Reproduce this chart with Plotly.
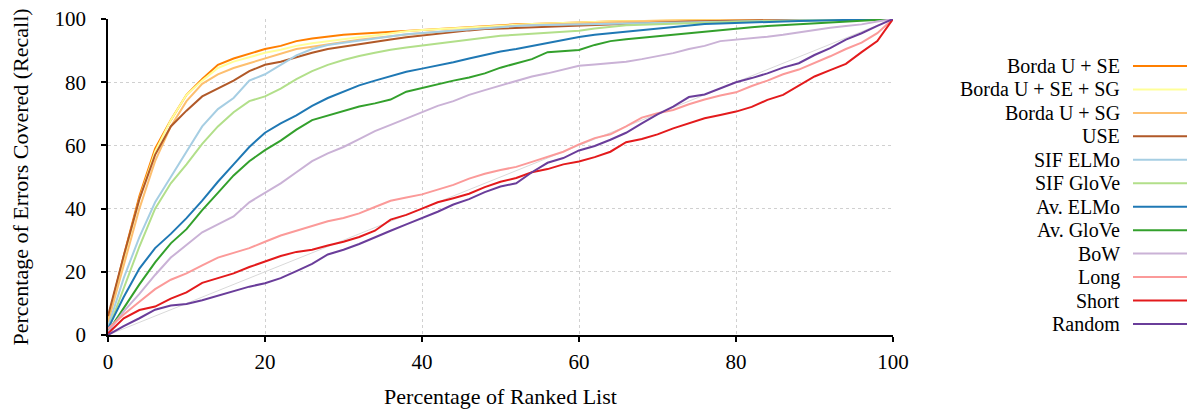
import plotly.graph_objects as go

x_pct = list(range(0, 101, 2))

borda_se = [5, 25, 44, 59, 68, 76, 81, 85.5, 87.5, 89, 90.5, 91.5, 93, 93.8, 94.5, 95, 95.3, 95.6, 95.9, 96.2,
            96.6, 96.9, 97.2, 97.5, 97.8, 98.1, 98.3, 98.4, 98.6, 98.8, 99, 99.1, 99.2, 99.3, 99.4, 99.5, 99.5,
            99.6, 99.6, 99.7, 99.7, 99.8, 99.8, 99.8, 99.9, 99.9, 99.9, 100, 100, 100, 100]
borda_se_sg = [4, 24, 43, 58, 68, 76, 80.5, 84.5, 86.5, 88, 89.3, 90.3, 91.5, 92.3, 93, 93.6, 94.2, 94.8, 95.5,
               96.1, 96.5, 96.8, 97.1, 97.4, 97.7, 98, 98.2, 98.4, 98.6, 98.8, 99, 99.1, 99.2, 99.3, 99.4, 99.5,
               99.5, 99.6, 99.6, 99.7, 99.7, 99.8, 99.8, 99.8, 99.9, 99.9, 99.9, 100, 100, 100, 100]
borda_sg = [4, 22, 40, 55, 66, 74, 79.5, 82.5, 84.5, 86, 87.5, 89, 90.5, 91.2, 92, 92.8, 93.4, 94, 94.6, 95.1,
            95.5, 95.9, 96.3, 96.8, 97.2, 97.6, 97.9, 98.1, 98.3, 98.5, 98.7, 98.9, 99, 99.2, 99.3, 99.4, 99.5,
            99.5, 99.6, 99.6, 99.7, 99.7, 99.8, 99.8, 99.9, 99.9, 99.9, 100, 100, 100, 100]
use = [6, 25, 43, 57, 66, 71, 75.5, 78, 80.5, 83.5, 85.5, 86.5, 88, 89.3, 90.5, 91.3, 92, 92.8, 93.5, 94.2,
       94.8, 95.4, 96, 96.4, 96.8, 97, 97.2, 97.4, 97.6, 97.8, 98, 98.2, 98.4, 98.6, 98.8, 99, 99.1, 99.2, 99.3,
       99.4, 99.5, 99.6, 99.6, 99.7, 99.7, 99.8, 99.8, 99.9, 99.9, 100, 100]
sif_elmo = [2.5, 18, 31, 42, 50, 58, 66, 71.5, 75, 80.5, 82.5, 85.5, 88.5, 90.5, 91.8, 92.5, 93.2, 93.9, 94.6,
            95.2, 95.6, 96, 96.4, 96.8, 97.2, 97.6, 97.8, 98, 98.1, 98.2, 98.3, 98.5, 98.6, 98.7, 98.8, 98.9, 99,
            99.1, 99.2, 99.3, 99.4, 99.5, 99.6, 99.6, 99.7, 99.8, 99.8, 99.9, 99.9, 100, 100]
sif_glove = [1.5, 15, 28, 40, 48, 54, 60.5, 66, 70.5, 74, 75.5, 78, 81, 83.5, 85.5, 87, 88.3, 89.3, 90.3, 91,
             91.6, 92.2, 92.9, 93.6, 94.2, 94.7, 95, 95.3, 95.6, 96, 96.3, 97, 97.6, 98, 98.2, 98.4, 98.6, 98.7,
             98.8, 99, 99.1, 99.2, 99.3, 99.4, 99.5, 99.6, 99.7, 99.8, 99.9, 100, 100]
av_elmo = [2, 12, 21, 27.5, 32, 37, 42.5, 48.5, 54, 59.5, 64, 67, 69.5, 72.5, 75, 77, 79, 80.5, 82, 83.3,
           84.3, 85.2, 86.3, 87.5, 88.7, 89.7, 90.5, 91.5, 92.3, 93.3, 94.3, 95, 95.5, 96, 96.6, 97.1, 97.4, 98,
           98.4, 98.6, 98.7, 98.8, 99, 99.2, 99.4, 99.5, 99.6, 99.7, 99.8, 99.9, 100]
av_glove = [1, 8.5, 16, 23, 29, 33.5, 39.5, 45, 50.5, 55, 58.5, 61.5, 65, 68, 69.5, 71, 72.3, 73.3, 74.5, 77,
            78.2, 79.5, 80.5, 81.5, 82.8, 84.6, 86, 87.3, 89.5, 89.9, 90.2, 91.8, 93, 93.6, 94.1, 94.6, 95.1,
            95.6, 96, 96.5, 97, 97.4, 97.8, 98.1, 98.4, 98.6, 98.9, 99.3, 99.6, 99.8, 100]
bow = [1, 7.5, 13, 19, 24.5, 28.5, 32.5, 35, 37.5, 42, 45, 48, 51.5, 55, 57.5, 59.5, 62, 64.5, 66.5, 68.5,
       70.5, 72.5, 74, 76, 77.5, 79, 80.5, 81.8, 82.8, 84, 85.2, 85.6, 86, 86.5, 87.3, 88.3, 89.2, 90.5, 91.5,
       93, 93.4, 93.8, 94.4, 95, 95.8, 96.5, 97.2, 97.8, 98.3, 99.2, 100]
long_ = [2, 6.5, 10.5, 14.5, 17.5, 19.5, 22, 24.5, 26, 27.5, 29.5, 31.5, 33, 34.5, 36, 37, 38.5, 40.5, 42.5,
         43.5, 44.5, 46, 47.5, 49.5, 51, 52.2, 53.2, 54.8, 56.3, 58, 60.3, 62.3, 63.5, 66, 68.8, 70.2, 71.2, 73,
         74.5, 75.8, 76.8, 78.8, 80.5, 82.5, 84, 86, 88.2, 90.5, 92.5, 95.5, 100]
short = [0.5, 5.3, 7.9, 9, 11.5, 13.5, 16.5, 18, 19.5, 21.5, 23.2, 25, 26.3, 27, 28.3, 29.5, 31, 33, 36.5, 38,
         40, 42, 43.3, 44.7, 46.8, 48.5, 49.7, 51.5, 52.5, 54, 54.9, 56.3, 58, 61, 62, 63.5, 65.4, 67, 68.6,
         69.6, 70.7, 72.2, 74.4, 76, 78.8, 81.8, 83.8, 85.8, 89.5, 93, 100]
random_ = [0, 2.8, 5.3, 8, 9.3, 9.8, 11, 12.5, 14, 15.3, 16.4, 18, 20.2, 22.5, 25.5, 27, 28.8, 31, 33, 35, 37,
           39, 41.3, 43, 45.2, 47, 48, 51.5, 54.5, 56, 58.4, 59.8, 61.8, 64, 67, 69.8, 72.3, 75.3, 76.1, 78, 80,
           81.3, 82.8, 84.6, 86, 88.6, 90.8, 93.5, 95.5, 97.8, 100]

series_names = ["Borda U + SE", "Borda U + SE + SG", "Borda U + SG", "USE", "SIF ELMo", "SIF GloVe",
                "Av. ELMo", "Av. GloVe", "BoW", "Long", "Short", "Random"]
series_values = [borda_se, borda_se_sg, borda_sg, use, sif_elmo, sif_glove, av_elmo, av_glove, bow,
                 long_, short, random_]
colors = ["#ff7f00", "#ffff99", "#fdbf6f", "#b15928", "#a6cee3", "#b2df8a", "#1f78b4", "#33a02c",
          "#cab2d6", "#fb9a99", "#e31a1c", "#6a3d9a"]

FONT = "Liberation Serif"

fig = go.Figure()
# diagonal baseline
fig.add_trace(go.Scatter(x=[0, 100], y=[0, 100], mode="lines",
                         line=dict(color="#d9d9d9", width=1), showlegend=False, hoverinfo="skip"))
for name, vals, col in zip(series_names, series_values, colors):
    fig.add_trace(go.Scatter(x=x_pct, y=vals, mode="lines", name=name,
                             line=dict(color=col, width=2), showlegend=False))

# page body has an 8px margin: figure sized/offset to compensate
OFF = 8
W, H = 1195 - OFF, 412 - OFF
PL, PR, PT, PB = 108, 893, 19, 335          # plot area in page pixels
L, T = PL - OFF, PT - OFF
R = W - (PR - OFF)
B = H - (PB - OFF)
pw, ph = PR - PL, PB - PT

# custom legend (text left of line sample), in page pixels
row0, dy = 66, 23.45
for i, (name, col) in enumerate(zip(series_names, colors)):
    py = row0 + i * dy
    yp = (PB - py) / ph
    fig.add_annotation(x=(1122 - PL) / pw, y=yp, xref="paper", yref="paper", text=name,
                       showarrow=False, xanchor="right", yanchor="middle",
                       font=dict(family=FONT, size=20, color="#000000"))
    fig.add_shape(type="line", xref="paper", yref="paper",
                  x0=(1133 - PL) / pw, x1=(1188 - PL) / pw, y0=yp, y1=yp,
                  line=dict(color=col, width=2))

axis_common = dict(range=[0, 100], dtick=20, tick0=0, showgrid=True, gridcolor="#d0d0d0",
                   griddash="dot", gridwidth=1, showline=True, linecolor="#000000", linewidth=1.5,
                   ticks="outside", ticklen=5, tickwidth=1.5, tickcolor="#000000", zeroline=False,
                   automargin=False, ticklabeloverflow="allow",
                   tickfont=dict(family=FONT, size=21, color="#000000"))

fig.update_layout(
    width=W, height=H,
    margin=dict(l=L, r=R, t=T, b=B, pad=0),
    paper_bgcolor="white", plot_bgcolor="white",
    xaxis=dict(**axis_common, ticklabelstandoff=2,
               title=dict(text="Percentage of Ranked List", standoff=16,
                          font=dict(family=FONT, size=22, color="#000000"))),
    yaxis=dict(**axis_common, ticklabelstandoff=11,
               title=dict(text="Percentage of Errors Covered (Recall)", standoff=28,
                          font=dict(family=FONT, size=22, color="#000000"))),
)

fig.write_html("out.html")
